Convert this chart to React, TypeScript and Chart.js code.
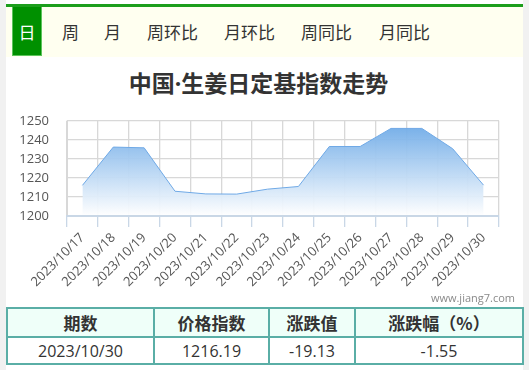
import React, { useEffect, useRef } from "react";
import { Chart, registerables } from "chart.js";

Chart.register(...registerables);

const tabs = ["日", "周", "月", "周环比", "月环比", "周同比", "月同比"];
const tabLefts = [12, 62, 104, 147, 224, 301, 379];
const titleLeft = "中国";
const titleDot = "·";
const titleRight = "生姜日定基指数走势";
const categories = [
  "2023/10/17", "2023/10/18", "2023/10/19", "2023/10/20", "2023/10/21",
  "2023/10/22", "2023/10/23", "2023/10/24", "2023/10/25", "2023/10/26",
  "2023/10/27", "2023/10/28", "2023/10/29", "2023/10/30",
];
const values = [
  1216.1, 1236.2, 1235.8, 1213.0, 1211.6, 1211.5, 1214.1, 1215.5,
  1236.5, 1236.5, 1246.0, 1246.0, 1235.32, 1216.19,
];
const yMin = 1200;
const yMax = 1250;
const yStep = 10;
const tableHeaders = ["期数", "价格指数", "涨跌值", "涨跌幅（%）"];
const tableRow = ["2023/10/30", "1216.19", "-19.13", "-1.55"];
const colEdges = [6, 153, 268, 354, 522];
const watermark = "www.jiang7.com";

const FONT = "'Open Sans', 'Noto Sans CJK SC', sans-serif";
const CJK = "'Noto Sans CJK SC', sans-serif";

const baseLine = {
  id: "baseLine",
  afterDatasetsDraw(chart: any) {
    const { ctx, chartArea } = chart;
    ctx.save();
    ctx.strokeStyle = "#c9d7e6";
    ctx.lineWidth = 2;
    ctx.beginPath();
    ctx.moveTo(chartArea.left, chartArea.bottom);
    ctx.lineTo(chartArea.right, chartArea.bottom);
    ctx.stroke();
    ctx.restore();
  },
};

export default function App() {
  const ref = useRef<HTMLCanvasElement | null>(null);
  useEffect(() => {
    const canvas = ref.current!;
    const chart = new Chart(canvas, {
      type: "line",
      data: {
        labels: categories,
        datasets: [
          {
            data: values,
            borderColor: "#6fa9e6",
            borderWidth: 1,
            pointRadius: 0,
            tension: 0,
            fill: "start",
            backgroundColor: (ctx: any) => {
              const ca = ctx.chart.chartArea;
              if (!ca) return "rgba(120,175,232,0.6)";
              const g = ctx.chart.ctx.createLinearGradient(0, ca.top + 8, 0, ca.bottom);
              g.addColorStop(0, "rgba(116,174,232,0.95)");
              g.addColorStop(1, "rgba(255,255,255,0.95)");
              return g;
            },
          },
        ],
      },
      options: {
        animation: false,
        responsive: false,
        maintainAspectRatio: false,
        layout: { padding: { top: 22, right: 24, left: 0, bottom: 0 } },
        plugins: { legend: { display: false }, tooltip: { enabled: false } },
        scales: {
          x: {
            offset: true,
            grid: {
              offset: true,
              color: "#d8d8d8",
              lineWidth: 1.3,
              tickColor: "#c9d7e6",
              tickLength: 11,
              drawTicks: true,
            },
            border: { color: "#c9d7e6", width: 2 },
            ticks: {
              maxRotation: 45,
              minRotation: 45,
              autoSkip: false,
              padding: 3,
              color: "#555",
              font: { family: FONT, size: 13 },
            },
            afterFit: (s: any) => {
              s.height = 84;
            },
          },
          y: {
            min: yMin,
            max: yMax,
            grid: { color: "#d8d8d8", lineWidth: 1.3, drawTicks: false },
            border: { color: "#d8d8d8" },
            ticks: {
              stepSize: yStep,
              padding: 18,
              color: "#555",
              font: { family: FONT, size: 13 },
              callback: (v: any) => String(v),
            },
            afterFit: (s: any) => {
              s.width = 61;
            },
          },
        },
      },
      plugins: [baseLine],
    });
    return () => chart.destroy();
  }, []);

  const abs = (o: any): React.CSSProperties => ({ position: "absolute", ...o });

  return (
    <div style={{ position: "absolute", left: 0, top: 0, width: 529, height: 370, background: "#f1f1f1", margin: 0, overflow: "hidden" }}>
      <div style={abs({ left: 6, top: 0, width: 517, height: 370, background: "#fff" })} />
      <div style={abs({ left: 6, top: 4, width: 517, height: 3, background: "#1c9e1c" })} />
      <div style={abs({ left: 6, top: 7, width: 517, height: 50, background: "#fffff0" })} />
      <div style={abs({ left: 12, top: 7, width: 30, height: 49, background: "#009000", borderLeft: "1px solid #5cc45c", borderRight: "1px solid #5cc45c", borderBottom: "1px solid #5cc45c", boxSizing: "border-box" })} />
      {tabs.map((t, i) => (
        <div key={t} style={abs({ left: i === 0 ? 12 : tabLefts[i], width: i === 0 ? 30 : undefined, textAlign: i === 0 ? "center" : "left", top: 20, fontFamily: CJK, fontSize: 17, lineHeight: "24px", color: i === 0 ? "#fff" : "#333", whiteSpace: "nowrap" })}>
          {t}
        </div>
      ))}
      <div style={abs({ left: 6, width: 505, top: 66, textAlign: "center", fontFamily: CJK, fontWeight: 700, fontSize: 23, lineHeight: "32px", color: "#333", whiteSpace: "nowrap" })}>
        {titleLeft}
        <span style={{ fontFamily: "'Open Sans', sans-serif" }}>{titleDot}</span>
        {titleRight}
      </div>
      <canvas ref={ref} width={517} height={205} style={abs({ left: 6, top: 95, width: 517, height: 205 })} />
      <div style={abs({ right: 14, top: 290, fontFamily: FONT, fontSize: 11, color: "#8a8a8a", lineHeight: "16px" })}>{watermark}</div>
      <table style={abs({ left: 6, top: 307, width: 516, borderCollapse: "collapse", tableLayout: "fixed", fontFamily: CJK })}>
        <colgroup>
          {colEdges.slice(0, -1).map((e, i) => (
            <col key={i} style={{ width: colEdges[i + 1] - e }} />
          ))}
        </colgroup>
        <tbody>
          <tr style={{ height: 29, background: "#effff9" }}>
            {tableHeaders.map((h) => (
              <td key={h} style={{ border: "2px solid #5aaea6", textAlign: "center", fontWeight: 700, fontSize: 17, color: "#333", padding: 0 }}>{h}</td>
            ))}
          </tr>
          <tr style={{ height: 27, background: "#fff" }}>
            {tableRow.map((c, i) => (
              <td key={i} style={{ border: "2px solid #5aaea6", textAlign: "center", fontSize: 16, fontFamily: FONT, color: "#333", padding: 0 }}>{c}</td>
            ))}
          </tr>
        </tbody>
      </table>
    </div>
  );
}
